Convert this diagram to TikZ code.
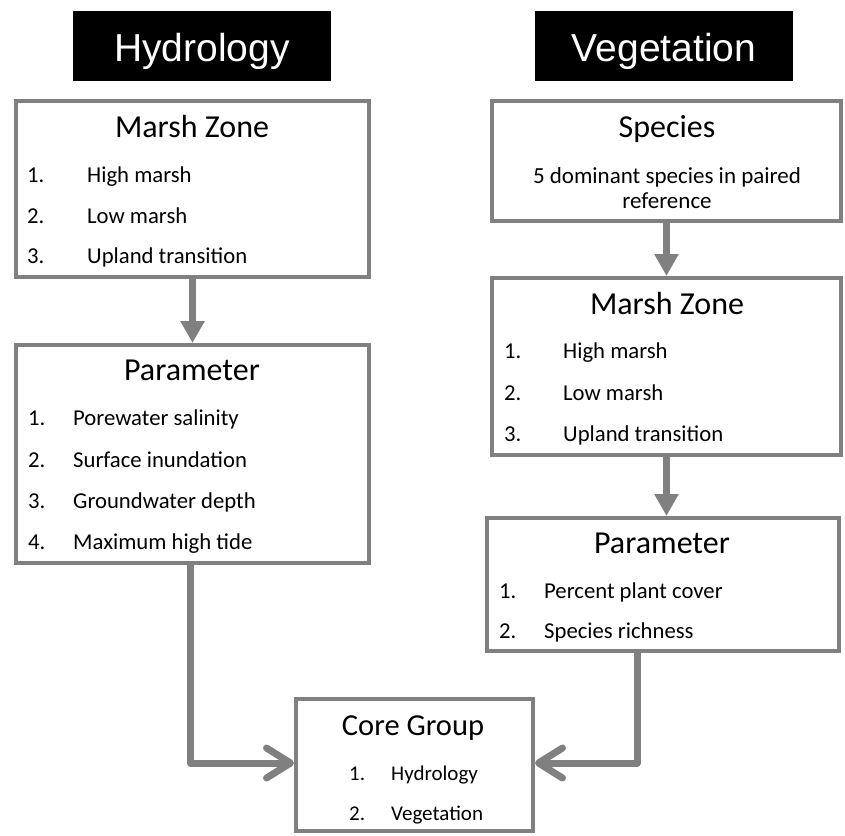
\documentclass[tikz,border=0pt]{standalone}
\usepackage{fontspec}
\setmainfont{Carlito}
\newfontfamily\hdrfont{Liberation Sans}
\usetikzlibrary{arrows.meta}
\definecolor{gry}{RGB}{128,128,128}
\begin{document}
\begin{tikzpicture}[x=1pt,y=-1pt,
  boxn/.style={draw=gry, line width=4pt, fill=white, inner sep=0pt, rectangle},
  hdrbox/.style={fill=black, text=white, inner sep=0pt, minimum width=258pt, minimum height=70pt, text height=30pt, text depth=0pt, font=\hdrfont\fontsize{39}{39}\selectfont},
  hd/.style={anchor=base, inner sep=0pt, font=\fontsize{32}{32}\selectfont},
  it/.style={anchor=base west, inner sep=0pt, font=\fontsize{22.7}{22.7}\selectfont},
  cit/.style={anchor=base west, inner sep=0pt, font=\fontsize{21}{21}\selectfont},
  sm/.style={anchor=base, inner sep=0pt, font=\fontsize{23}{23}\selectfont},
  varr/.style={draw=gry, line width=7pt, -{Triangle[width=23pt,length=22pt]}},
  barr/.style={draw=gry, line width=7pt, line join=round, -{Straight Barb[length=24pt,width=30pt,round]}}
]
\useasboundingbox (0,0) rectangle (845,835);
% header boxes
\node[hdrbox] (hyd) at (202,46) {Hydrology};
\node[hdrbox] (veg) at (664,46) {Vegetation};
% boxes
\node[boxn, minimum width=353pt, minimum height=176pt] (lmz) at (192.5,189) {};
\node[boxn, minimum width=353pt, minimum height=218pt] (lpar) at (192.5,454) {};
\node[boxn, minimum width=349pt, minimum height=120pt] (spc) at (666.5,161) {};
\node[boxn, minimum width=349pt, minimum height=177pt] (rmz) at (666.5,366.5) {};
\node[boxn, minimum width=352pt, minimum height=133pt] (rpar) at (663,584.5) {};
\node[boxn, minimum width=237pt, minimum height=132pt] (core) at (414.5,765) {};
% left marsh zone text
\node[hd] (lmzh) at (192,137) {Marsh Zone};
\node[it] (lmz1n) at (27,182) {1.};
\node[it] (lmz1) at (87,182) {High marsh};
\node[it] (lmz2n) at (27,223) {2.};
\node[it] (lmz2) at (87,223) {Low marsh};
\node[it] (lmz3n) at (27,263) {3.};
\node[it] (lmz3) at (87,263) {Upland transition};
% left parameter text
\node[hd] (lparh) at (192,380) {Parameter};
\node[it] (lp1n) at (28,425) {1.};
\node[it] (lp1) at (73,425) {Porewater salinity};
\node[it] (lp2n) at (28,467) {2.};
\node[it] (lp2) at (73,467) {Surface inundation};
\node[it] (lp3n) at (28,508) {3.};
\node[it] (lp3) at (73,508) {Groundwater depth};
\node[it] (lp4n) at (28,549) {4.};
\node[it] (lp4) at (73,549) {Maximum high tide};
% species text
\node[hd] (spch) at (667,137) {Species};
\node[sm] (spc1) at (667,183) {5 dominant species in paired};
\node[sm] (spc2) at (667,208) {reference};
% right marsh zone text
\node[hd] (rmzh) at (667,314) {Marsh Zone};
\node[it] (rmz1n) at (504,358) {1.};
\node[it] (rmz1) at (563,358) {High marsh};
\node[it] (rmz2n) at (504,400) {2.};
\node[it] (rmz2) at (563,400) {Low marsh};
\node[it] (rmz3n) at (504,441) {3.};
\node[it] (rmz3) at (563,441) {Upland transition};
% right parameter text
\node[hd] (rparh) at (662,553) {Parameter};
\node[it] (rp1n) at (499,598) {1.};
\node[it] (rp1) at (544,598) {Percent plant cover};
\node[it] (rp2n) at (499,638) {2.};
\node[it] (rp2) at (544,638) {Species richness};
% core group text
\node[hd, font=\fontsize{30.5}{30.5}\selectfont] (coreh) at (413,735) {Core Group};
\node[cit] (c1n) at (349,780) {1.};
\node[cit] (c1) at (391,780) {Hydrology};
\node[cit] (c2n) at (349,820) {2.};
\node[cit] (c2) at (391,820) {Vegetation};
% connectors
\draw[varr] (lmz.south) -- (lpar.north);
\draw[varr] (spc.south) -- (rmz.north);
\draw[varr] (rmz.south) -- (rmz.south |- rpar.north);
\coordinate (rdrop) at ([xshift=-26pt]rpar.south);
\draw[barr] ([xshift=-2pt]lpar.south) |- ([yshift=2pt]core.west);
\draw[barr] (rdrop) |- ([yshift=2pt]core.east);
\end{tikzpicture}
\end{document}
